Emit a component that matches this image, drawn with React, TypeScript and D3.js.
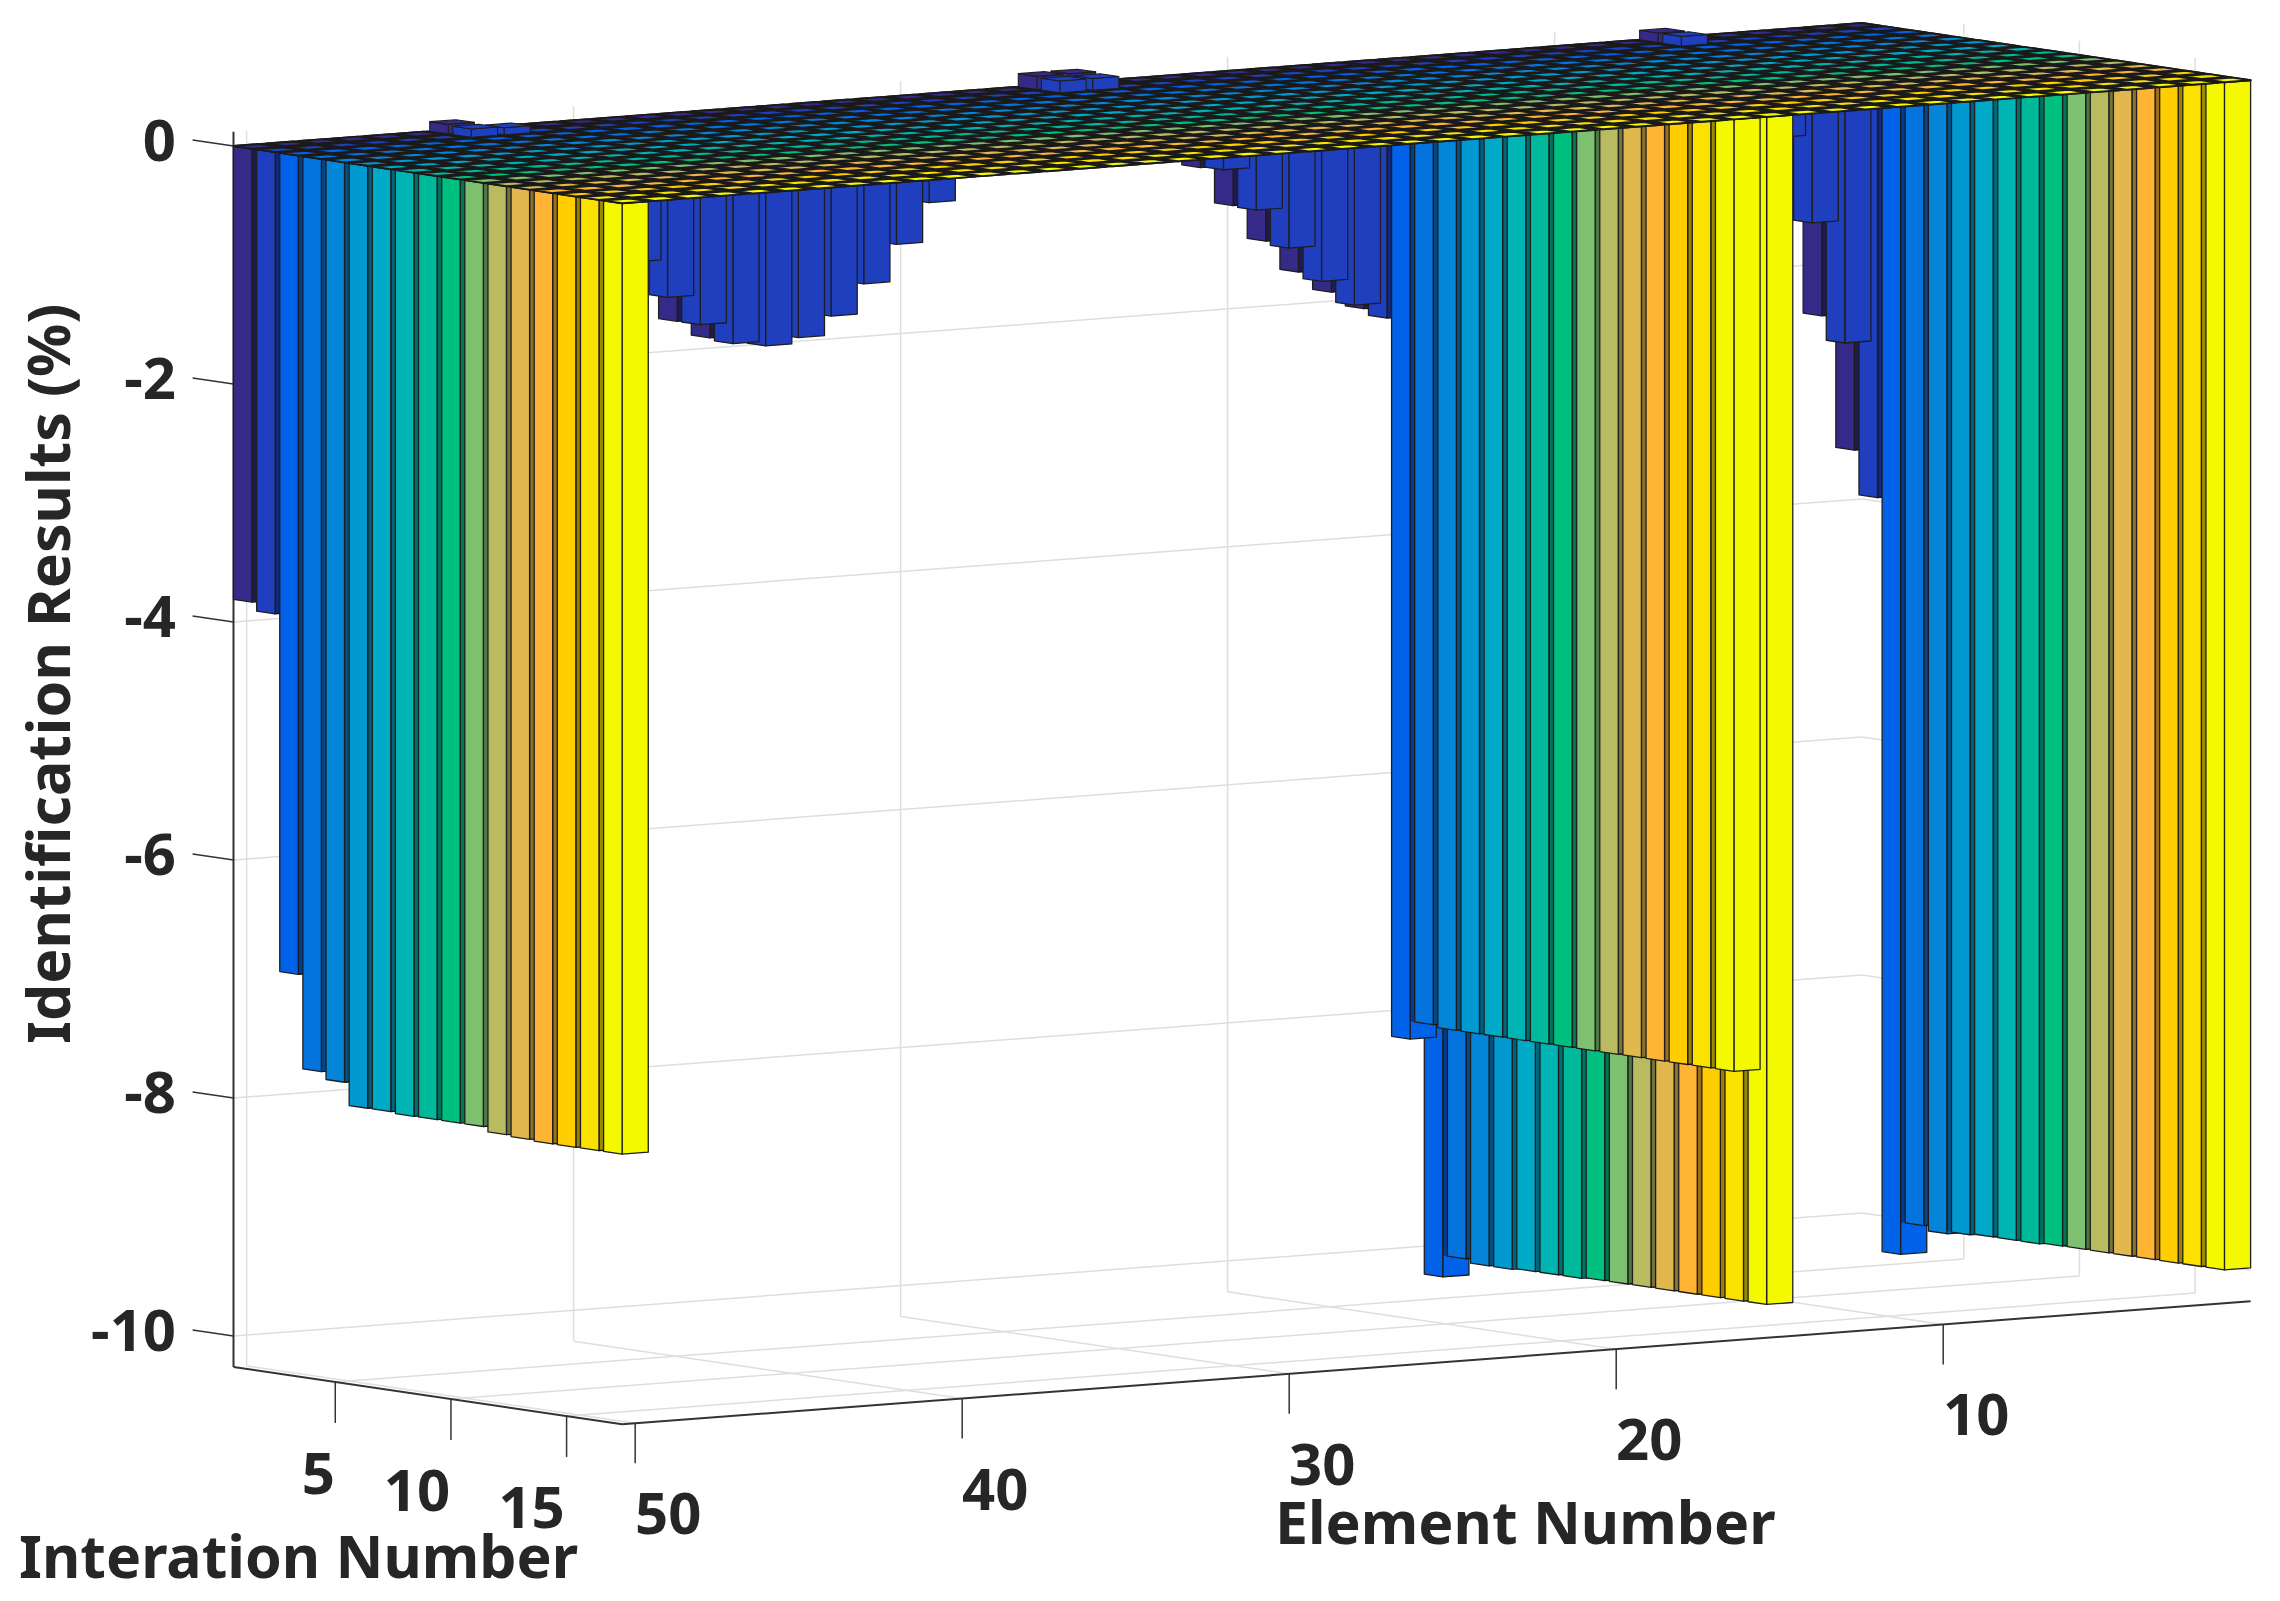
import * as d3 from 'd3';
import { useEffect, useRef } from 'react';

const W = 2280
const H = 1601

const iterTicks = [5, 10, 15]
const iterLabelShift = [-17, -34, -35]
const elemTicks = [50, 40, 30, 20, 10]
const zTicks = [0, -2, -4, -6, -8, -10]

// one colour per iteration, 1 to 17
const iterColors = ['#352a87', '#1f3fbe', '#0062e8', '#0573dd', '#0585d8', '#0099d0', '#00a9c8', '#00b4b4', '#00b89a',
    '#00c080', '#7cc070', '#b8bb60', '#e0b84d', '#ffb433', '#ffcd00', '#fae100', '#f5f900']

// iteration 1 and 2, element 1 to 50
const firstIter = [-3.55, -2.4, -1.4, -0.7, -0.3, -0.1, 0.08, -0.05, -0.3, -0.6,
    -0.9, -1.2, -1.5, -1.8, -2.0, -2.05, -1.89, -1.7, -1.42, -1.1,
    -0.76, -0.45, -0.2, -0.03, 0.11, 0.11, -0.05, -0.22, -0.5, -0.8,
    -1.12, -1.45, -1.7, -1.87, -1.93, -1.88, -1.72, -1.45, -1.1, -0.75,
    -0.4, 0, 0, 0.08, -0.2, -0.5, -0.9, -1.3, -1.7, -3.81]
const secondIter = [-3.92, -2.6, -1.57, -0.83, -0.4, -0.15, 0.08, -0.05, -0.3, -0.6,
    -0.9, -1.2, -1.5, -1.8, -2.1, -2.1, -1.97, -1.75, -1.45, -1.11,
    -0.75, -0.5, -0.25, -0.08, 0.1, 0.1, -0.05, -0.25, -0.55, -0.84,
    -1.17, -1.48, -1.73, -1.89, -1.94, -1.9, -1.72, -1.47, -1.15, -0.8,
    -0.45, 0, 0.06, 0.07, -0.2, -0.5, -0.9, -1.3, -1.7, -3.88]

// iteration 3 to 17 for the damaged elements, everything else sits at 0
const element50 = [-6.88, -7.67, -7.73, -7.92, -7.92, -7.93, -7.93, -7.93, -7.93, -7.97, -7.98, -7.99, -7.99, -7.99, -7.99]
const element16 = [-8.13, -7.98, -8, -8, -8, -8, -8, -8, -8, -8, -8, -8, -8, -8, -8]
const element15 = [-10.15, -9.97, -10, -10, -9.99, -9.99, -9.99, -9.98, -9.98, -9.98, -9.98, -9.98, -9.98, -9.98, -9.98]
const element1 = [-10.25, -9.98, -10.02, -10, -9.99, -9.99, -9.99, -9.98, -9.98, -9.98, -9.98, -9.98, -9.98, -9.98, -9.98]
const damaged: any = { 50: element50, 16: element16, 15: element15, 1: element1 }

const iterMin = 0.6, iterMax = 17.4, elemMin = 0.6, elemMax = 50.4, zMin = -10.26, zMax = 0.12

const iterX = d3.scaleLinear().domain([iterMin, iterMax]).range([0, 388.6])
const iterY = d3.scaleLinear().domain([iterMin, iterMax]).range([0, 57.3])
const elemX = d3.scaleLinear().domain([elemMax, elemMin]).range([0, 1628.5])
const elemY = d3.scaleLinear().domain([elemMax, elemMin]).range([0, -123])
const zY = d3.scaleLinear().domain([0, -10]).range([146, 1336])

const sx = (i: number, e: number) => 233.5 + iterX(i) + elemX(e)
const sy = (i: number, e: number, z: number) => zY(z) + iterY(i) + elemY(e)
const pt = (i: number, e: number, z: number): [number, number] => [sx(i, e), sy(i, e, z)]

const poly = d3.line()
const closed = (pts: any) => poly(pts) + 'Z'

function value(i: number, e: number) {
    if (i === 1) return firstIter[e - 1]
    if (i === 2) return secondIter[e - 1]
    return damaged[e] ? damaged[e][i - 3] : 0
}

export default function App() {
    const svgRef = useRef(null)

    useEffect(() => {
        drawChart(svgRef.current)
    }, [svgRef])

    return (
        <svg ref={svgRef} style={{ position: 'absolute', left: 0, top: 0, display: 'block' }}></svg>
    )
}

function drawChart(node: any) {
    const svg = d3.select(node).attr('width', W).attr('height', H).style('background', '#fff')
    svg.selectAll('*').remove()

    const seg = (g: any, a: any, b: any, color: string, width: number) =>
        g.append('line').attr('x1', a[0]).attr('y1', a[1]).attr('x2', b[0]).attr('y2', b[1])
            .attr('stroke', color).attr('stroke-width', width)

    // walls and floor
    const grid = svg.append('g')
    const gridColor = '#dedede'
    zTicks.forEach(z => {
        seg(grid, pt(iterMin, elemMax, z), pt(iterMin, elemMin, z), gridColor, 1.5)
        seg(grid, pt(iterMin, elemMin, z), pt(iterMax, elemMin, z), gridColor, 1.5)
    })
    elemTicks.forEach(e => {
        seg(grid, pt(iterMin, e, zMin), pt(iterMin, e, zMax), gridColor, 1.5)
        seg(grid, pt(iterMin, e, zMin), pt(iterMax, e, zMin), gridColor, 1.5)
    })
    iterTicks.forEach(i => {
        seg(grid, pt(i, elemMin, zMin), pt(i, elemMin, zMax), gridColor, 1.5)
        seg(grid, pt(i, elemMax, zMin), pt(i, elemMin, zMin), gridColor, 1.5)
    })

    // axes
    const axes = svg.append('g')
    const axisColor = '#333'
    seg(axes, pt(iterMin, elemMax, zMin), pt(iterMin, elemMax, zMax), axisColor, 2)
    seg(axes, pt(iterMin, elemMax, zMin), pt(iterMax, elemMax, zMin), axisColor, 2)
    seg(axes, pt(iterMax, elemMax, zMin), pt(iterMax, elemMin, zMin), axisColor, 2)
    zTicks.forEach(z => seg(axes, pt(iterMin, elemMax, z), pt(iterMin - 1.77, elemMax, z), axisColor, 1.5))
    iterTicks.forEach(i => {
        const p = pt(i, elemMax, zMin)
        seg(axes, p, [p[0], p[1] + 41], axisColor, 1.5)
    })
    elemTicks.forEach(e => {
        const p = pt(iterMax, e, zMin)
        seg(axes, p, [p[0], p[1] + 40], axisColor, 1.5)
    })

    const bars = svg.append('g').attr('stroke', '#1e1e1e').attr('stroke-width', 1.3).attr('stroke-linejoin', 'round')
    const half = 0.4
    const iters = d3.range(1, 18)
    const elems = d3.range(1, 51)

    const sides = (g: any, i: number, e: number, v: number) => {
        const color = iterColors[i - 1]
        g.append('path').attr('fill', color).attr('d', closed([
            pt(i + half, e + half, 0), pt(i + half, e - half, 0), pt(i + half, e - half, v), pt(i + half, e + half, v)]))
        // narrow slot towards the next bar reads darker
        if (v < 0 && i < 17) {
            const next = value(i + 1, e)
            const shallow = Math.max(v, next)
            if (shallow < 0) {
                g.append('path').attr('fill', '#000').attr('fill-opacity', 0.38).attr('stroke', 'none').attr('d', closed([
                    pt(i + half, e + half, 0), pt(i + 1 - half, e + half, 0), pt(i + 1 - half, e + half, shallow), pt(i + half, e + half, shallow)]))
            }
        }
        g.append('path').attr('fill', color).attr('d', closed([
            pt(i - half, e + half, 0), pt(i + half, e + half, 0), pt(i + half, e + half, v), pt(i - half, e + half, v)]))
    }

    // hanging bars, far to near
    elems.forEach(e => iters.forEach(i => {
        const v = value(i, e)
        if (v < 0) sides(bars, i, e, v)
    }))

    // flat top sheet
    const top = svg.append('g').attr('stroke', '#1a1a1a').attr('stroke-width', 1.9).attr('stroke-linejoin', 'round')
    top.append('path').attr('fill', '#1a1a1a').attr('d', closed([
        pt(iterMin, elemMin, 0), pt(iterMax, elemMin, 0), pt(iterMax, elemMax, 0), pt(iterMin, elemMax, 0)]))
    elems.forEach(e => iters.forEach(i => {
        if (value(i, e) > 0) return
        top.append('path').attr('fill', iterColors[i - 1]).attr('d', closed([
            pt(i - half, e - half, 0), pt(i + half, e - half, 0), pt(i + half, e + half, 0), pt(i - half, e + half, 0)]))
    }))

    // the few bars that stick up
    const raised = svg.append('g').attr('stroke', '#1e1e1e').attr('stroke-width', 1.1).attr('stroke-linejoin', 'round')
    elems.forEach(e => iters.forEach(i => {
        const v = value(i, e)
        if (v <= 0) return
        sides(raised, i, e, v)
        raised.append('path').attr('fill', iterColors[i - 1]).attr('d', closed([
            pt(i - half, e - half, v), pt(i + half, e - half, v), pt(i + half, e + half, v), pt(i - half, e + half, v)]))
    }))

    // text
    const labels = svg.append('g').attr('font-family', '"Noto Sans", sans-serif').attr('font-weight', 700)
        .attr('font-size', 58).attr('fill', '#262626')

    zTicks.forEach(z => {
        labels.append('text').attr('x', 176).attr('y', zY(z) + 15).attr('text-anchor', 'end').text(z)
    })
    iterTicks.forEach((i, k) => {
        const p = pt(i, elemMax, zMin)
        labels.append('text').attr('x', p[0] + iterLabelShift[k]).attr('y', p[1] + 112).attr('text-anchor', 'middle').text(i)
    })
    elemTicks.forEach(e => {
        const p = pt(iterMax, e, zMin)
        labels.append('text').attr('x', p[0] + 33).attr('y', p[1] + 111).attr('text-anchor', 'middle').text(e)
    })

    const titles = labels.append('g').attr('font-size', 59)
    titles.append('text').attr('x', 19).attr('y', 1578).text('Interation Number')
    titles.append('text').attr('x', 1275).attr('y', 1544).text('Element Number')
    titles.append('text').attr('transform', 'translate(70,1044) rotate(-90)').text('Identification Results (%)')
}
